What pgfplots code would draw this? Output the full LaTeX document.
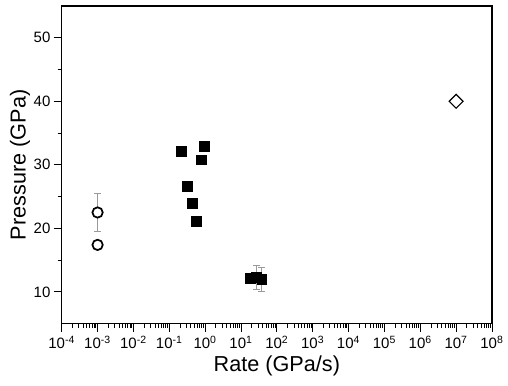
\documentclass[border=0pt]{standalone}
\usepackage{fontspec}
\setmainfont{Liberation Sans}
\usepackage{pgfplots}
\pgfplotsset{compat=1.18}
\begin{document}
\begin{tikzpicture}
\path (-46.5pt,-46.5pt) rectangle (334.5pt,243.75pt);
\begin{axis}[
  scale only axis,
  width=324pt, height=239.25pt,
  xmode=log,
  xmin=1e-4, xmax=1e8,
  ymin=5, ymax=55,
  xtick={1e-4,1e-3,1e-2,1e-1,1,1e1,1e2,1e3,1e4,1e5,1e6,1e7,1e8},
  xticklabels={10\textsuperscript{-4},10\textsuperscript{-3},10\textsuperscript{-2},10\textsuperscript{-1},10\textsuperscript{0},10\textsuperscript{1},10\textsuperscript{2},10\textsuperscript{3},10\textsuperscript{4},10\textsuperscript{5},10\textsuperscript{6},10\textsuperscript{7},10\textsuperscript{8}},
  ytick={10,20,30,40,50},
  minor ytick={15,25,35,45},
  /pgf/number format/assume math mode=true,
  tick align=outside,
  xtick pos=bottom, ytick pos=left,
  major tick length=6pt, minor tick length=3pt,
  tick style={black, line width=0.7pt},
  axis line style={line width=0.8pt},
  ticklabel style={font=\fontsize{11.3}{13}\selectfont},
  yticklabel style={xshift=1pt},
  xticklabel style={yshift=0pt},
  xlabel={Rate (GPa/s)},
  ylabel={Pressure (GPa)},
  every axis x label/.style={at={(axis description cs:0.5,0)}, yshift=-32pt, anchor=center, font=\fontsize{16.3}{19}\selectfont},
  every axis y label/.style={at={(axis description cs:0,0.5)}, xshift=-31.5pt, rotate=90, anchor=center, font=\fontsize{16.3}{19}\selectfont},
  clip=false,
]
% error bars (drawn first, under markers)
\addplot[only marks, mark=none, forget plot,
  error bars/.cd, y dir=both, y explicit,
  error bar style={draw=gray!80, line width=0.6pt},
  error mark options={rotate=90, mark size=2.6pt, draw=gray!80, line width=0.6pt}]
  table[x=x, y=y, y error=e] {
x y e
1e-3 22.5 3.0
27 12.3 1.9
38 12.0 1.9
};
% open circles
\addplot[only marks, mark=*, mark size=3.9pt, mark options={draw=black, line width=1.3pt, fill=white}]
  coordinates {(1e-3,22.5) (1e-3,17.4)};
% filled squares
\addplot[only marks, mark=square*, mark size=3.7pt, mark options={black, fill=black}]
  coordinates {
  (0.215,32.1) (0.96,32.9) (0.79,30.8) (0.32,26.6) (0.44,23.9) (0.57,21.1)
  (18.6,12.1) (27,12.3) (38,12.0)
  };
% open diamond
\addplot[only marks, mark=square, mark size=3.7pt, mark options={black, line width=0.9pt, fill=white, rotate=45}]
  coordinates {(1e7,40)};
\end{axis}
\end{tikzpicture}
\end{document}
